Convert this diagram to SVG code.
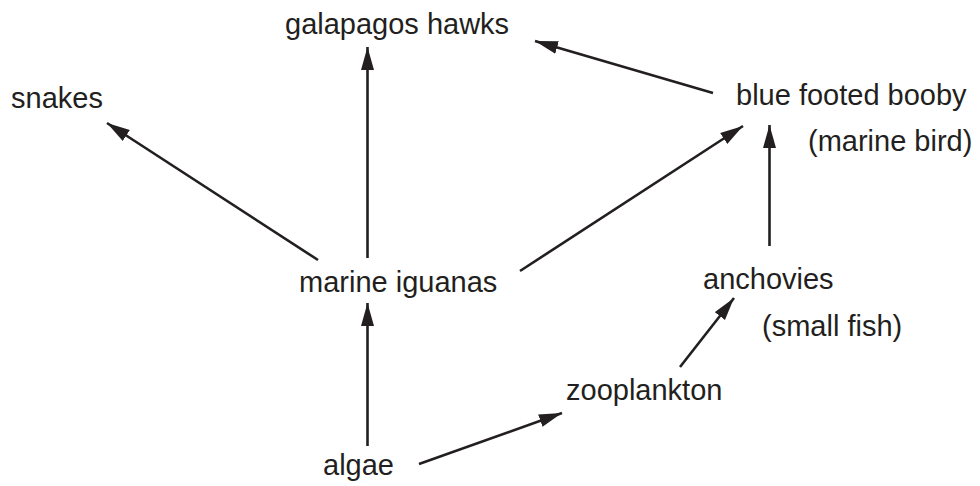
<svg xmlns="http://www.w3.org/2000/svg" width="980" height="486" viewBox="0 0 980 486">
<style>
.t{font-family:"Liberation Sans",Arial,sans-serif;font-size:29px;fill:#231f20}
.c line{stroke:#231f20;stroke-width:2.6;fill:none}
</style>
<defs>
<marker id="ah" markerUnits="userSpaceOnUse" markerWidth="26" markerHeight="16" refX="23" refY="7" orient="auto" viewBox="0 0 26 16">
<path d="M0,0.5 L23,7 L0,13.5 Z" fill="#231f20"/>
</marker>
</defs>
<rect width="980" height="486" fill="#fff"/>
<g class="c" id="connectors">
<line x1="367.5" y1="446" x2="367.5" y2="303" marker-end="url(#ah)"/>
<line x1="367.5" y1="258" x2="367.5" y2="47" marker-end="url(#ah)"/>
<line x1="318" y1="260" x2="107" y2="123" marker-end="url(#ah)"/>
<line x1="520" y1="271" x2="743" y2="126" marker-end="url(#ah)"/>
<line x1="713" y1="93" x2="535" y2="41" marker-end="url(#ah)"/>
<line x1="769.5" y1="246" x2="769.5" y2="125" marker-end="url(#ah)"/>
<line x1="680" y1="367" x2="734" y2="298" marker-end="url(#ah)"/>
<line x1="419" y1="464" x2="562" y2="413" marker-end="url(#ah)"/>
</g>
<g id="galapagos-hawks"><text class="t" x="285" y="34">galapagos hawks</text></g>
<g id="snakes"><text class="t" x="11" y="108">snakes</text></g>
<g id="blue-footed-booby"><text class="t" x="736" y="105">blue footed booby</text><text class="t" x="808" y="151">(marine bird)</text></g>
<g id="marine-iguanas"><text class="t" x="299" y="292">marine iguanas</text></g>
<g id="anchovies"><text class="t" x="703" y="289">anchovies</text><text class="t" x="762" y="336">(small fish)</text></g>
<g id="zooplankton"><text class="t" x="566" y="400">zooplankton</text></g>
<g id="algae"><text class="t" x="323" y="475">algae</text></g>
</svg>
